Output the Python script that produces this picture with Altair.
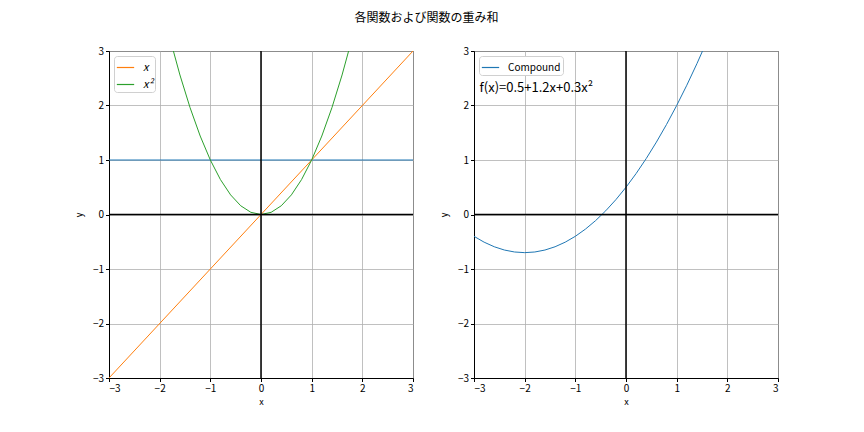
import altair as alt
import pandas as pd

FONT = "Noto Sans CJK JP"

# ---- data ----
xs = [-3.0, -2.8, -2.6, -2.4, -2.2, -2.0, -1.8, -1.6, -1.4, -1.2, -1.0,
      -0.8, -0.6, -0.4, -0.2, 0.0, 0.2, 0.4, 0.6, 0.8, 1.0,
      1.2, 1.4, 1.6, 1.8, 2.0, 2.2, 2.4, 2.6, 2.8, 3.0]
square_vals = [9.0, 7.84, 6.76, 5.76, 4.84, 4.0, 3.24, 2.56, 1.96, 1.44, 1.0,
               0.64, 0.36, 0.16, 0.04, 0.0, 0.04, 0.16, 0.36, 0.64, 1.0,
               1.44, 1.96, 2.56, 3.24, 4.0, 4.84, 5.76, 6.76, 7.84, 9.0]
compound_vals = [-0.4, -0.508, -0.592, -0.652, -0.688, -0.7, -0.688, -0.652, -0.592, -0.508, -0.4,
                 -0.268, -0.112, 0.068, 0.272, 0.5, 0.752, 1.028, 1.328, 1.652, 2.0,
                 2.372, 2.768, 3.188, 3.632, 4.1, 4.592, 5.108, 5.648, 6.212, 6.8]
const_x = [-3.0, 3.0]
const_y = [1.0, 1.0]
lin_x = [-3.0, 3.0]
lin_y = [-3.0, 3.0]
ticks = [-3, -2, -1, 0, 1, 2, 3]
left_series = ["x", "x²"]
right_series = ["Compound"]
annotation = ["f(x)=0.5+1.2x+0.3x²"]
annotation_pos = [-2.89, 2.32]

BLUE, ORANGE, GREEN = "#1f77b4", "#ff7f0e", "#2ca02c"

xscale = alt.Scale(domain=[-3, 3], nice=False, zero=False)
yscale = alt.Scale(domain=[-3, 3], nice=False, zero=False)
xaxis = alt.Axis(values=ticks, title="x", grid=True)
yaxis = alt.Axis(values=ticks, title="y", grid=True, titlePadding=9)

W, H = 304, 327


def X():
    return alt.X("x:Q", scale=xscale, axis=xaxis)


def Y():
    return alt.Y("y:Q", scale=yscale, axis=yaxis)


def zero_lines():
    z = pd.DataFrame({"v": [0]})
    h = alt.Chart(z).mark_rule(color="black", strokeWidth=1.5).encode(y=alt.Y("v:Q", scale=yscale, axis=yaxis))
    v = alt.Chart(z).mark_rule(color="black", strokeWidth=1.5).encode(x=alt.X("v:Q", scale=xscale, axis=xaxis))
    return h, v


legend_common = dict(
    orient="top-left", title=None, offset=5, padding=2,
    strokeColor="#d0d0d0", fillColor="white", cornerRadius=3,
    symbolType="stroke", symbolSize=300, symbolStrokeWidth=1.2,
    labelFont=FONT, labelColor="black", rowPadding=2,
    labelOffset=8,
)

# left panel
df_const = pd.DataFrame({"x": const_x, "y": const_y})
df_left = pd.concat([
    pd.DataFrame({"x": lin_x, "y": lin_y, "s": left_series[0]}),
    pd.DataFrame({"x": xs, "y": square_vals, "s": left_series[1]}),
])
h0, v0 = zero_lines()
const_line = alt.Chart(df_const).mark_line(color=BLUE, strokeWidth=1, clip=True).encode(x=X(), y=Y())
left_lines = alt.Chart(df_left).mark_line(strokeWidth=1, clip=True).encode(
    x=X(), y=Y(),
    color=alt.Color("s:N", scale=alt.Scale(domain=left_series, range=[ORANGE, GREEN]),
                    legend=alt.Legend(labelFontStyle="italic", labelFontSize=11, **legend_common)),
)
left = alt.layer(const_line, left_lines, h0, v0).properties(width=W, height=H)

# right panel
df_right = pd.DataFrame({"x": xs, "y": compound_vals, "s": right_series[0]})
h1, v1 = zero_lines()
right_line = alt.Chart(df_right).mark_line(strokeWidth=1, clip=True).encode(
    x=X(), y=Y(),
    color=alt.Color("s:N", scale=alt.Scale(domain=right_series, range=[BLUE]),
                    legend=alt.Legend(labelFontSize=10, **legend_common)),
)
txt = alt.Chart(pd.DataFrame({"x": [annotation_pos[0]], "y": [annotation_pos[1]], "t": annotation})).mark_text(
    align="left", baseline="middle", fontSize=13, font=FONT, color="black"
).encode(x=X(), y=Y(), text="t:N")
right = alt.layer(right_line, h1, v1, txt).properties(width=W, height=H)

chart = alt.hconcat(left, right, spacing=61, bounds="flush").resolve_scale(
    color="independent"
).resolve_legend(color="independent").properties(
    title=alt.TitleParams("各関数および関数の重み和", fontSize=12, font=FONT, fontWeight="normal",
                          anchor="middle", offset=21, color="black"),
    padding={"left": 65, "top": 3, "right": 5, "bottom": 5},
).configure_view(stroke="black", strokeWidth=1).configure_axis(
    domainColor="black", domainWidth=1, tickColor="black", tickSize=3.5, tickWidth=1,
    labelColor="black", labelFont=FONT, labelFontSize=10, labelPadding=2,
    titleColor="black", titleFont=FONT, titleFontSize=9, titleFontWeight="normal", titlePadding=4,
    gridColor="#b0b0b0", gridWidth=0.8,
)

chart.save("out.html", embed_options={"renderer": "svg", "actions": False})
